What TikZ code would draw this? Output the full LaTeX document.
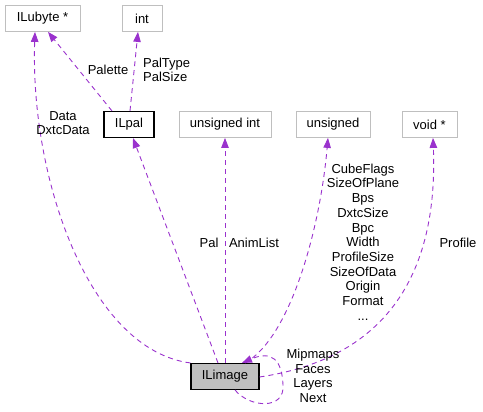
\documentclass[tikz,border=0pt]{standalone}
\usepackage{fontspec}
\setmainfont{Liberation Sans}
\usetikzlibrary{positioning,arrows.meta,calc}
\definecolor{dxpurple}{HTML}{9A32CD}
\definecolor{dxgray}{HTML}{BFBFBF}
\tikzset{
  extbox/.style={draw=dxgray, line width=0.8pt, minimum height=26pt, inner sep=0pt},
  docbox/.style={draw=black, line width=1.1pt, minimum height=26pt, inner sep=0pt},
  curbox/.style={docbox, fill=dxgray},
  rel/.style={dxpurple, line width=0.9pt, dash pattern=on 5pt off 4pt, -{Triangle[length=10pt,width=7.5pt]}},
  lbl/.style={align=center, inner sep=0pt}
}

\begin{document}
\begin{tikzpicture}[x=1pt, y=-1pt, font=\fontsize{13}{14.7}\selectfont]
        \useasboundingbox (0,0) rectangle (483,412);
        % boxes
        \node[extbox, minimum width=75pt] (ubyte) at (42.5,18.5) {ILubyte *};
        \node[extbox, minimum width=40pt] (intty) at (142,18.5) {int};
        \node[docbox, minimum width=50pt] (ilpal) at (129,124.5) {ILpal};
        \node[extbox, minimum width=92pt] (uint) at (225,124.5) {unsigned int};
        \node[extbox, minimum width=74pt] (unsig) at (333,124.5) {unsigned};
        \node[extbox, minimum width=55pt] (voidp) at (429.5,124.5) {void *};
        \node[curbox, minimum width=68pt] (ilimage) at (225,376.5) {ILimage};
        % relations
        \draw[rel] (ilimage.north west) .. controls (90,350) and (30,180) .. ($(ubyte.south)+(-7.5,0)$);
        \draw[rel] ($(ilpal.north)+(-17,0)$) -- ($(ubyte.south)+(5.5,0)$);
        \draw[rel] ($(ilpal.north)+(1,0)$) -- ($(intty.south)+(-4,0)$);
        \draw[rel] ($(ilimage.north)+(-7,0)$) -- ($(ilpal.south)+(4,0)$);
        \draw[rel] (ilimage.north) -- (uint.south);
        \draw[rel] ($(ilimage.north)+(20,0)$) .. controls (290,338) and (320,230) .. ($(unsig.south)+(-5,0)$);
        \draw[rel] ($(ilimage.east)+(0,0.5)$) .. controls (340,365) and (440,320) .. ($(voidp.south)+(3.5,0)$);
        \draw[rel] ($(ilimage.south)+(10,0)$) .. controls (250,408) and (285,410) .. (283,385)
                   .. controls (282,360) and (272,350) .. ($(ilimage.north)+(17,0)$);
        % labels
        \node[lbl] (ldata) at (63,123) {Data\\DxtcData};
        \node[lbl] (lpalette) at (108,69.5) {Palette};
        \node[lbl, align=left, anchor=west] (lpaltype) at (143,70) {PalType\\PalSize};
        \node[lbl] (lpal) at (209,243) {Pal};
        \node[lbl] (lanim) at (254,243) {AnimList};
        \node[lbl] (lunsig) at (363,242) {CubeFlags\\SizeOfPlane\\Bps\\DxtcSize\\Bpc\\Width\\ProfileSize\\SizeOfData\\Origin\\Format\\...};
        \node[lbl] (lprofile) at (458,243) {Profile};
        \node[lbl] (lmip) at (313,376) {Mipmaps\\Faces\\Layers\\Next};
      \end{tikzpicture}
\end{document}
